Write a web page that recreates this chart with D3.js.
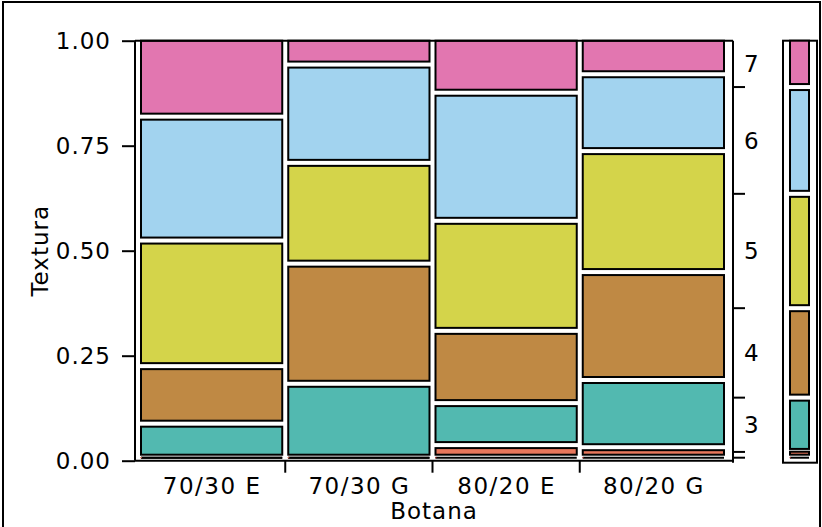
<!DOCTYPE html>
<html>
<head>
<meta charset="utf-8">
<script src="https://cdn.jsdelivr.net/npm/d3@7"></script>
<style>
  html, body { margin: 0; padding: 0; background: #fff; }
  svg text { font-family: "DejaVu Sans", sans-serif; fill: #000; }
</style>
</head>
<body>
<svg id="chart" width="822" height="527"></svg>
<script>
// Botana groups (x) and Textura levels stacked bottom to top
const groups = ["70/30 E", "70/30 G", "80/20 E", "80/20 G"];
const levels = ["1", "2", "3", "4", "5", "6", "7"];
const levelColors = ["#b0302a", "#e8775c", "#52b9b0", "#bf8944", "#d4d44a", "#a2d3ef", "#e276b0"];

// Share of each Textura level within each Botana group
const level1 = [0.000, 0.000, 0.000, 0.000];
const level2 = [0.000, 0.000, 0.030, 0.025];
const level3 = [0.081, 0.176, 0.100, 0.160];
const level4 = [0.137, 0.286, 0.172, 0.257];
const level5 = [0.299, 0.240, 0.262, 0.288];
const level6 = [0.295, 0.234, 0.305, 0.183];
const level7 = [0.188, 0.064, 0.131, 0.087];
// Relative group sizes (column widths)
const groupWeights = [1, 1, 1, 1];

const yTicks = [0, 0.25, 0.5, 0.75, 1];

const shares = [level1, level2, level3, level4, level5, level6, level7];

const svg = d3.select("#chart");
const GAP = 6;
const FONT = 23;
const plot = { left: 135, right: 733, top: 40.7, bottom: 460.7 };

// outer frame
svg.append("rect")
  .attr("x", 3).attr("y", 2).attr("width", 817).attr("height", 540)
  .attr("fill", "none").attr("stroke", "#000").attr("stroke-width", 2);

const y = d3.scaleLinear().domain([0, 1]).range([plot.bottom, plot.top]);

// column positions proportional to group weights
const totalW = d3.sum(groupWeights);
const innerL = plot.left + 6, innerR = plot.right - 9;
const colSpan = innerR - innerL + GAP;
const xw = d3.scaleLinear().domain([0, totalW]).range([innerL, innerL + colSpan]);
const cumW = d3.cumsum([0].concat(groupWeights));
const cols = groups.map((g, i) => ({
  name: g,
  x0: xw(cumW[i]),
  x1: xw(cumW[i + 1]) - GAP
}));

// one column of stacked cells; non-empty cells keep a minimum visible height
function drawStack(g, x0, x1, vals) {
  const tot = d3.sum(vals);
  let cum = 0;
  vals.forEach((v, k) => {
    const lo = cum / tot, hi = (cum + v) / tot;
    cum += v;
    let top = y(hi);
    const bot = y(lo) - GAP;
    if (v > 0 && bot - top < 3) top = bot - 3;
    if (v > 0) {
      g.append("rect")
        .attr("x", x0).attr("y", top)
        .attr("width", x1 - x0).attr("height", bot - top)
        .attr("fill", levelColors[k]).attr("stroke", "#000").attr("stroke-width", 2);
    } else {
      const yy = y(lo) - GAP / 2;
      g.append("line")
        .attr("x1", x0).attr("x2", x1).attr("y1", yy).attr("y2", yy)
        .attr("stroke", "#000").attr("stroke-width", 2);
      g.append("line")
        .attr("x1", x0 - 0.5).attr("x2", x0 + 1).attr("y1", yy).attr("y2", yy)
        .attr("stroke", levelColors[k]).attr("stroke-width", 1);
    }
  });
}

const cells = svg.append("g");
cols.forEach((c, i) => drawStack(cells, c.x0, c.x1, shares.map(s => s[i])));

// left axis
const yAxis = d3.axisLeft(y).tickValues(yTicks).tickFormat(d3.format(".2f"))
  .tickSize(13).tickPadding(11);
const ya = svg.append("g").attr("transform", `translate(${plot.left},0)`).call(yAxis);
ya.select(".domain").attr("stroke", "#000").attr("stroke-width", 2).attr("d", `M0,${plot.top}V${plot.bottom}`);
ya.selectAll(".tick line").attr("stroke", "#000").attr("stroke-width", 2);
ya.selectAll(".tick text").attr("font-size", FONT).attr("font-family", "DejaVu Sans")
  .attr("letter-spacing", 1).attr("dy", "0.36em");

// top and bottom frame lines
svg.append("line").attr("x1", plot.left).attr("x2", plot.right)
  .attr("y1", plot.top).attr("y2", plot.top).attr("stroke", "#000").attr("stroke-width", 2);
svg.append("line").attr("x1", plot.left).attr("x2", plot.right)
  .attr("y1", plot.bottom).attr("y2", plot.bottom).attr("stroke", "#000").attr("stroke-width", 2);

// bottom axis: labels at column centers, ticks at column boundaries
const xBand = d3.scaleOrdinal().domain(groups).range(cols.map(c => (c.x0 + c.x1) / 2));
const xAxis = d3.axisBottom(xBand).tickSize(0).tickPadding(17);
const xa = svg.append("g").attr("transform", `translate(0,${plot.bottom})`).call(xAxis);
xa.select(".domain").remove();
xa.selectAll(".tick text").attr("font-size", FONT).attr("font-family", "DejaVu Sans")
  .attr("letter-spacing", 1.5);
cols.slice(0, -1).forEach(c => {
  const xb = c.x1 + GAP / 2;
  svg.append("line").attr("x1", xb).attr("x2", xb)
    .attr("y1", plot.bottom).attr("y2", plot.bottom + 12)
    .attr("stroke", "#000").attr("stroke-width", 2);
});

// axis titles
svg.append("text").attr("x", (plot.left + plot.right) / 2).attr("y", 519)
  .attr("text-anchor", "middle").attr("font-size", FONT).attr("letter-spacing", 1).text("Botana");
svg.append("text").attr("transform", `translate(48,${(plot.top + plot.bottom) / 2}) rotate(-90)`)
  .attr("text-anchor", "middle").attr("font-size", FONT).attr("letter-spacing", 1).text("Textura");

// overall distribution of levels, weighted by group size
const marginal = shares.map(s => d3.sum(s.map((v, i) => v * groupWeights[i])) / totalW);

// right axis: ticks at level boundaries, labels centered within each level
svg.append("line").attr("x1", plot.right).attr("x2", plot.right)
  .attr("y1", plot.top).attr("y2", plot.bottom + 2).attr("stroke", "#000").attr("stroke-width", 2);
const cumM = d3.cumsum(marginal);
const bounds = [];
for (let k = 0; k < levels.length - 1; k++) bounds.push(y(cumM[k]) - GAP / 2);
bounds.forEach(b => {
  svg.append("line").attr("x1", plot.right).attr("x2", plot.right + 12)
    .attr("y1", b).attr("y2", b).attr("stroke", "#000").attr("stroke-width", 2);
});
const edges = [plot.bottom].concat(bounds).concat([plot.top]);
levels.forEach((lv, k) => {
  const lo = edges[k], hi = edges[k + 1];
  if (lo - hi < 18) return;
  svg.append("text").attr("x", plot.right + 11).attr("y", (lo + hi) / 2)
    .attr("dy", "0.36em").attr("font-size", FONT).text(lv);
});

// overall distribution bar
const legend = svg.append("g");
legend.append("rect").attr("x", 783).attr("y", plot.top).attr("width", 34)
  .attr("height", plot.bottom + 2 - plot.top)
  .attr("fill", "none").attr("stroke", "#000").attr("stroke-width", 2);
drawStack(legend, 790, 809, marginal);
</script>
</body>
</html>
